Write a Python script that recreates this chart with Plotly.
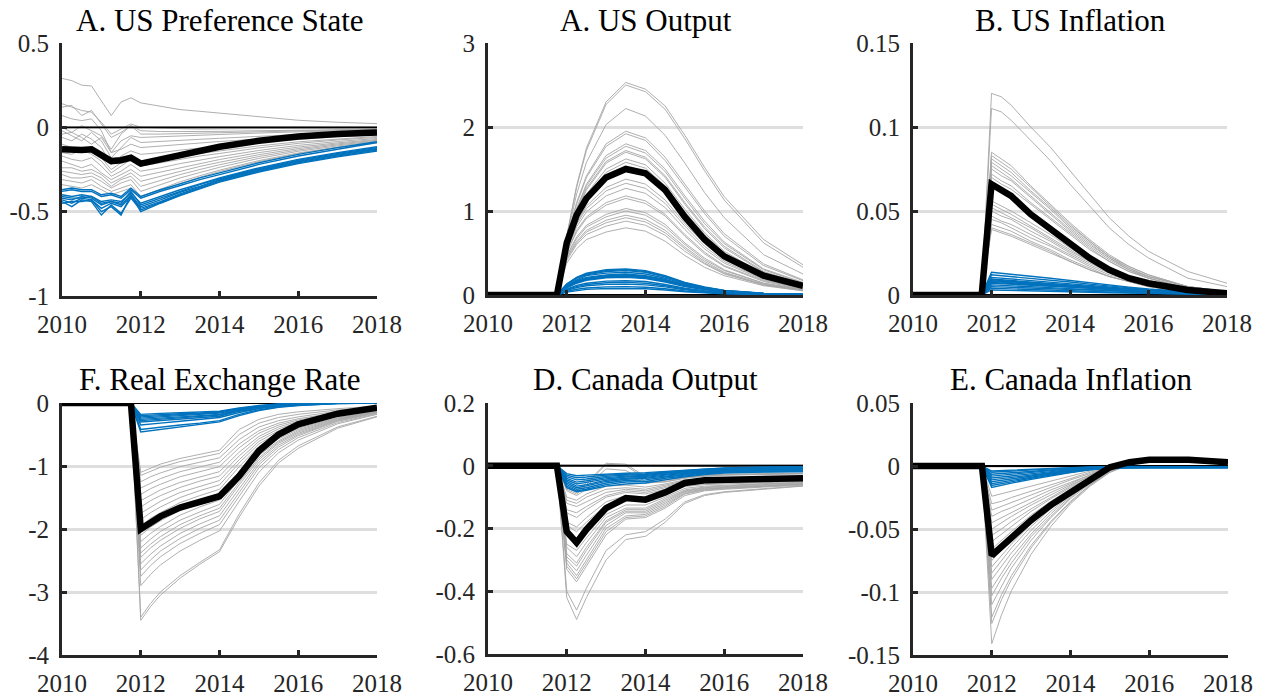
import plotly.graph_objects as go

W, H = 1266, 698
FONT = "Liberation Serif, Times New Roman, serif"
AX_COLOR = "#262626"
GRAY = "#a6a6a6"
BLUE = "#0072bd"
BLACK = "#000000"

X_TICKS = [2010, 2012, 2014, 2016, 2018]
X_TEXT = ["2010", "2012", "2014", "2016", "2018"]

# ---------------- time grids ----------------
T_PREF = [2010, 2010.25, 2010.5, 2010.75, 2011, 2011.25, 2011.5, 2011.75, 2012,
          2012.5, 2013, 2013.5, 2014, 2015, 2016, 2017, 2018]
T_IRF = [2010, 2011.75, 2012, 2012.25, 2012.5, 2013, 2013.5, 2014, 2014.5,
         2015, 2015.5, 2016, 2017, 2018]
PRE_SHOCK = [0.0, 0.0]   # values at 2010 and 2011.75 (before the shock)

# ---------------- A. US Preference State ----------------
PREF_GRAY = [
    [0.29, 0.277, 0.25, 0.245, 0.157, 0.07, 0.15, 0.175, 0.145, 0.125, 0.105, 0.095, 0.085, 0.062, 0.042, 0.03, 0.022],
    [0.14, 0.12, 0.10, 0.09, 0.03, -0.04, -0.01, 0.02, 0.0, -0.005, -0.008, -0.01, -0.01, -0.008, -0.006, -0.005, -0.004],
    [0.12, 0.13, 0.07, 0.10, 0.02, -0.06, -0.03, 0.01, -0.02, -0.025, -0.025, -0.025, -0.024, -0.02, -0.017, -0.014, -0.012],
    [0.07, 0.05, 0.04, 0.05, -0.02, -0.15, -0.08, -0.05, -0.06, -0.055, -0.05, -0.046, -0.042, -0.034, -0.027, -0.021, -0.017],
    [0.0, -0.03, 0.01, -0.02, -0.05, -0.13, -0.04, 0.01, -0.04, -0.04, -0.037, -0.034, -0.031, -0.025, -0.02, -0.016, -0.013],
    [-0.02, -0.05, -0.08, -0.03, -0.08, -0.18, -0.12, -0.06, -0.09, -0.085, -0.078, -0.071, -0.065, -0.053, -0.042, -0.034, -0.028],
    [-0.04, -0.03, -0.06, -0.10, -0.06, -0.15, -0.13, -0.10, -0.12, -0.11, -0.10, -0.092, -0.084, -0.069, -0.056, -0.045, -0.037],
    [-0.06, -0.08, -0.04, -0.07, -0.12, -0.22, -0.17, -0.14, -0.16, -0.15, -0.135, -0.122, -0.11, -0.088, -0.07, -0.056, -0.045],
    [-0.10, -0.12, -0.14, -0.12, -0.18, -0.25, -0.21, -0.17, -0.20, -0.185, -0.168, -0.152, -0.138, -0.11, -0.086, -0.068, -0.054],
    [-0.15, -0.16, -0.13, -0.16, -0.20, -0.27, -0.23, -0.19, -0.23, -0.21, -0.19, -0.17, -0.155, -0.122, -0.095, -0.075, -0.06],
    [-0.17, -0.19, -0.20, -0.18, -0.23, -0.29, -0.26, -0.22, -0.26, -0.24, -0.215, -0.193, -0.174, -0.137, -0.107, -0.084, -0.066],
    [-0.20, -0.22, -0.24, -0.22, -0.27, -0.31, -0.28, -0.25, -0.29, -0.265, -0.238, -0.213, -0.191, -0.15, -0.117, -0.092, -0.072],
    [-0.24, -0.24, -0.26, -0.25, -0.28, -0.33, -0.30, -0.27, -0.32, -0.29, -0.26, -0.232, -0.207, -0.162, -0.126, -0.098, -0.077],
    [-0.26, -0.27, -0.28, -0.27, -0.30, -0.35, -0.31, -0.29, -0.35, -0.315, -0.28, -0.25, -0.222, -0.173, -0.134, -0.104, -0.081],
    [-0.28, -0.30, -0.30, -0.29, -0.32, -0.36, -0.33, -0.31, -0.38, -0.34, -0.30, -0.268, -0.237, -0.184, -0.142, -0.11, -0.085],
    [-0.31, -0.32, -0.33, -0.31, -0.35, -0.38, -0.36, -0.34, -0.41, -0.365, -0.323, -0.287, -0.254, -0.197, -0.152, -0.117, -0.09],
    [-0.34, -0.35, -0.36, -0.34, -0.37, -0.40, -0.38, -0.36, -0.42, -0.375, -0.333, -0.296, -0.262, -0.203, -0.156, -0.12, -0.093],
]
PREF_BLUE = [
    [-0.37, -0.36, -0.37, -0.37, -0.40, -0.39, -0.41, -0.36, -0.41, -0.37, -0.335, -0.30, -0.27, -0.21, -0.16, -0.12, -0.085],
    [-0.38, -0.37, -0.38, -0.38, -0.41, -0.40, -0.42, -0.37, -0.42, -0.38, -0.345, -0.31, -0.28, -0.22, -0.17, -0.13, -0.09],
    [-0.40, -0.41, -0.40, -0.41, -0.44, -0.43, -0.44, -0.39, -0.45, -0.41, -0.37, -0.335, -0.30, -0.24, -0.19, -0.15, -0.115],
    [-0.42, -0.43, -0.41, -0.42, -0.46, -0.44, -0.46, -0.40, -0.47, -0.43, -0.385, -0.35, -0.31, -0.25, -0.20, -0.16, -0.125],
    [-0.43, -0.45, -0.42, -0.43, -0.48, -0.45, -0.47, -0.41, -0.48, -0.44, -0.395, -0.355, -0.315, -0.255, -0.205, -0.165, -0.13],
    [-0.44, -0.47, -0.43, -0.44, -0.52, -0.46, -0.51, -0.42, -0.49, -0.445, -0.40, -0.36, -0.32, -0.26, -0.21, -0.17, -0.135],
    [-0.45, -0.44, -0.44, -0.43, -0.50, -0.47, -0.52, -0.40, -0.50, -0.45, -0.405, -0.365, -0.325, -0.265, -0.215, -0.175, -0.14],
    [-0.41, -0.42, -0.42, -0.41, -0.45, -0.44, -0.45, -0.38, -0.46, -0.42, -0.378, -0.34, -0.305, -0.245, -0.195, -0.155, -0.12],
]
PREF_MEDIAN = [-0.13, -0.135, -0.135, -0.13, -0.17, -0.20, -0.195, -0.18, -0.215,
               -0.19, -0.165, -0.138, -0.115, -0.08, -0.055, -0.04, -0.03]
PREF_YTICKS = [-1, -0.5, 0, 0.5]
PREF_YTEXT = ["-1", "-0.5", "0", "0.5"]

# ---------------- A. US Output ----------------
USY_GRAY = [
    [0.70, 1.30, 1.75, 2.30, 2.53, 2.45, 2.25, 1.90, 1.52, 1.17, 0.66, 0.36],
    [0.70, 1.28, 1.72, 2.27, 2.50, 2.42, 2.21, 1.86, 1.48, 1.13, 0.62, 0.33],
    [0.68, 1.20, 1.58, 2.03, 2.22, 2.13, 1.90, 1.57, 1.22, 0.92, 0.48, 0.25],
    [0.66, 1.10, 1.42, 1.80, 1.95, 1.87, 1.64, 1.32, 1.00, 0.73, 0.37, 0.18],
    [0.65, 1.08, 1.40, 1.77, 1.92, 1.84, 1.60, 1.28, 0.97, 0.70, 0.35, 0.17],
    [0.63, 1.03, 1.32, 1.66, 1.80, 1.72, 1.50, 1.18, 0.88, 0.63, 0.31, 0.15],
    [0.63, 1.02, 1.30, 1.63, 1.77, 1.69, 1.47, 1.15, 0.85, 0.61, 0.30, 0.14],
    [0.62, 1.00, 1.27, 1.59, 1.72, 1.64, 1.42, 1.10, 0.81, 0.58, 0.28, 0.13],
    [0.61, 0.98, 1.25, 1.57, 1.70, 1.62, 1.40, 1.08, 0.79, 0.56, 0.27, 0.13],
    [0.60, 0.95, 1.20, 1.50, 1.62, 1.55, 1.33, 1.02, 0.74, 0.52, 0.25, 0.12],
    [0.59, 0.93, 1.18, 1.46, 1.58, 1.51, 1.30, 0.99, 0.72, 0.50, 0.24, 0.11],
    [0.56, 0.86, 1.06, 1.28, 1.38, 1.32, 1.13, 0.85, 0.61, 0.42, 0.20, 0.09],
    [0.55, 0.84, 1.03, 1.24, 1.33, 1.27, 1.09, 0.82, 0.58, 0.40, 0.19, 0.09],
    [0.53, 0.81, 0.99, 1.18, 1.27, 1.21, 1.04, 0.78, 0.55, 0.38, 0.18, 0.08],
    [0.51, 0.77, 0.93, 1.10, 1.18, 1.12, 0.96, 0.72, 0.51, 0.35, 0.17, 0.08],
    [0.50, 0.75, 0.91, 1.07, 1.15, 1.09, 0.94, 0.70, 0.49, 0.34, 0.16, 0.07],
    [0.47, 0.69, 0.83, 0.96, 1.03, 0.98, 0.84, 0.62, 0.44, 0.30, 0.14, 0.07],
    [0.46, 0.67, 0.81, 0.93, 1.00, 0.95, 0.81, 0.60, 0.42, 0.29, 0.14, 0.06],
    [0.44, 0.64, 0.77, 0.89, 0.95, 0.90, 0.77, 0.57, 0.40, 0.27, 0.13, 0.06],
    [0.43, 0.62, 0.75, 0.86, 0.92, 0.87, 0.74, 0.55, 0.38, 0.26, 0.12, 0.06],
    [0.41, 0.60, 0.72, 0.82, 0.88, 0.83, 0.71, 0.52, 0.37, 0.25, 0.12, 0.05],
    [0.38, 0.55, 0.66, 0.75, 0.80, 0.76, 0.64, 0.47, 0.33, 0.23, 0.11, 0.05],
]
USY_BLUE = [
    [0.13, 0.21, 0.26, 0.30, 0.31, 0.29, 0.23, 0.15, 0.095, 0.055, 0.02, 0.01],
    [0.13, 0.20, 0.25, 0.29, 0.30, 0.28, 0.22, 0.145, 0.09, 0.053, 0.019, 0.009],
    [0.12, 0.20, 0.24, 0.28, 0.29, 0.27, 0.215, 0.14, 0.088, 0.051, 0.018, 0.009],
    [0.11, 0.18, 0.23, 0.26, 0.27, 0.25, 0.20, 0.13, 0.082, 0.048, 0.017, 0.008],
    [0.10, 0.17, 0.21, 0.24, 0.25, 0.23, 0.185, 0.12, 0.076, 0.044, 0.016, 0.008],
    [0.10, 0.16, 0.20, 0.23, 0.24, 0.22, 0.18, 0.115, 0.073, 0.042, 0.015, 0.007],
    [0.095, 0.155, 0.19, 0.22, 0.23, 0.215, 0.17, 0.11, 0.07, 0.04, 0.015, 0.007],
    [0.09, 0.15, 0.185, 0.215, 0.22, 0.205, 0.165, 0.105, 0.067, 0.039, 0.014, 0.007],
    [0.085, 0.14, 0.175, 0.205, 0.21, 0.195, 0.155, 0.10, 0.064, 0.037, 0.013, 0.006],
    [0.07, 0.115, 0.14, 0.165, 0.17, 0.16, 0.125, 0.08, 0.052, 0.03, 0.011, 0.005],
    [0.063, 0.10, 0.125, 0.145, 0.15, 0.14, 0.11, 0.072, 0.046, 0.027, 0.01, 0.005],
    [0.055, 0.088, 0.11, 0.126, 0.13, 0.12, 0.097, 0.062, 0.04, 0.023, 0.008, 0.004],
    [0.042, 0.068, 0.084, 0.097, 0.10, 0.093, 0.075, 0.048, 0.031, 0.018, 0.007, 0.003],
    [0.034, 0.054, 0.067, 0.078, 0.08, 0.074, 0.06, 0.038, 0.025, 0.014, 0.005, 0.003],
]
USY_MEDIAN = [0.62, 0.95, 1.15, 1.40, 1.50, 1.45, 1.25, 0.93, 0.66, 0.46, 0.23, 0.11]
USY_YTICKS = [0, 1, 2, 3]
USY_YTEXT = ["0", "1", "2", "3"]

# ---------------- B. US Inflation ----------------
USPI_GRAY = [
    [0.120, 0.118, 0.113, 0.100, 0.088, 0.074, 0.060, 0.046, 0.035, 0.026, 0.014, 0.007],
    [0.111, 0.109, 0.104, 0.092, 0.080, 0.066, 0.053, 0.040, 0.030, 0.022, 0.010, 0.005],
    [0.085, 0.081, 0.077, 0.065, 0.054, 0.043, 0.033, 0.024, 0.017, 0.012, 0.005, 0.002],
    [0.083, 0.079, 0.075, 0.064, 0.053, 0.042, 0.032, 0.023, 0.017, 0.012, 0.005, 0.002],
    [0.081, 0.077, 0.073, 0.062, 0.052, 0.041, 0.032, 0.023, 0.016, 0.011, 0.005, 0.002],
    [0.079, 0.075, 0.071, 0.061, 0.051, 0.040, 0.031, 0.022, 0.016, 0.011, 0.005, 0.002],
    [0.077, 0.073, 0.069, 0.059, 0.049, 0.039, 0.030, 0.022, 0.015, 0.011, 0.005, 0.002],
    [0.075, 0.071, 0.068, 0.058, 0.048, 0.038, 0.029, 0.021, 0.015, 0.010, 0.004, 0.002],
    [0.072, 0.068, 0.065, 0.055, 0.046, 0.037, 0.028, 0.020, 0.014, 0.010, 0.004, 0.002],
    [0.070, 0.066, 0.063, 0.054, 0.045, 0.036, 0.027, 0.020, 0.014, 0.010, 0.004, 0.002],
    [0.056, 0.053, 0.050, 0.043, 0.036, 0.028, 0.021, 0.015, 0.011, 0.007, 0.003, 0.001],
    [0.054, 0.051, 0.048, 0.041, 0.034, 0.027, 0.020, 0.015, 0.010, 0.007, 0.003, 0.001],
    [0.052, 0.049, 0.046, 0.040, 0.033, 0.026, 0.020, 0.014, 0.010, 0.007, 0.003, 0.001],
    [0.050, 0.047, 0.045, 0.038, 0.032, 0.025, 0.019, 0.014, 0.010, 0.007, 0.003, 0.001],
    [0.047, 0.044, 0.042, 0.036, 0.030, 0.024, 0.018, 0.013, 0.009, 0.006, 0.003, 0.001],
    [0.045, 0.043, 0.040, 0.034, 0.029, 0.023, 0.017, 0.012, 0.009, 0.006, 0.002, 0.001],
    [0.042, 0.040, 0.038, 0.032, 0.027, 0.021, 0.016, 0.011, 0.008, 0.005, 0.002, 0.001],
    [0.040, 0.038, 0.036, 0.031, 0.026, 0.020, 0.015, 0.011, 0.008, 0.005, 0.002, 0.001],
    [0.039, 0.037, 0.035, 0.030, 0.025, 0.020, 0.015, 0.011, 0.008, 0.005, 0.002, 0.001],
]
USPI_BLUE = [
    [0.0135, 0.013, 0.0124, 0.0112, 0.010, 0.0086, 0.0073, 0.0059, 0.0047, 0.0036, 0.002, 0.001],
    [0.012, 0.0115, 0.011, 0.010, 0.0089, 0.0077, 0.0065, 0.0053, 0.0042, 0.0032, 0.0018, 0.0008],
    [0.0105, 0.010, 0.0097, 0.0087, 0.0078, 0.0067, 0.0057, 0.0046, 0.0037, 0.0028, 0.0016, 0.0007],
    [0.0095, 0.0091, 0.0087, 0.0079, 0.007, 0.0061, 0.0051, 0.0042, 0.0033, 0.0026, 0.0014, 0.0007],
    [0.009, 0.0086, 0.0083, 0.0075, 0.0067, 0.0058, 0.0049, 0.004, 0.0032, 0.0024, 0.0014, 0.0006],
    [0.0085, 0.0082, 0.0078, 0.0071, 0.0063, 0.0054, 0.0046, 0.0037, 0.003, 0.0023, 0.0013, 0.0006],
    [0.008, 0.0077, 0.0074, 0.0066, 0.0059, 0.0051, 0.0043, 0.0035, 0.0028, 0.0022, 0.0012, 0.0006],
    [0.0075, 0.0072, 0.0069, 0.0062, 0.0056, 0.0048, 0.0041, 0.0033, 0.0026, 0.002, 0.0011, 0.0005],
    [0.007, 0.0067, 0.0064, 0.0058, 0.0052, 0.0045, 0.0038, 0.0031, 0.0025, 0.0019, 0.0011, 0.0005],
    [0.006, 0.0058, 0.0055, 0.005, 0.0044, 0.0038, 0.0032, 0.0026, 0.0021, 0.0016, 0.0009, 0.0004],
    [0.005, 0.0048, 0.0046, 0.0042, 0.0037, 0.0032, 0.0027, 0.0022, 0.0018, 0.0014, 0.0008, 0.0004],
    [0.004, 0.0038, 0.0037, 0.0033, 0.003, 0.0026, 0.0022, 0.0018, 0.0014, 0.0011, 0.0006, 0.0003],
    [0.003, 0.0029, 0.0028, 0.0025, 0.0022, 0.0019, 0.0016, 0.0013, 0.0011, 0.0008, 0.0005, 0.0002],
]
USPI_MEDIAN = [0.066, 0.063, 0.059, 0.048, 0.039, 0.030, 0.022, 0.015, 0.010, 0.007, 0.003, 0.001]
USPI_YTICKS = [0, 0.05, 0.1, 0.15]
USPI_YTEXT = ["0", "0.05", "0.1", "0.15"]

# ---------------- F. Real Exchange Rate ----------------
RER_GRAY = [
    [-3.45, -3.23, -3.05, -2.78, -2.56, -2.36, -1.81, -1.32, -0.95, -0.72, -0.40, -0.22],
    [-3.40, -3.18, -3.00, -2.74, -2.53, -2.33, -1.76, -1.27, -0.91, -0.68, -0.38, -0.21],
    [-2.90, -2.72, -2.57, -2.35, -2.18, -2.03, -1.56, -1.10, -0.79, -0.59, -0.33, -0.18],
    [-2.75, -2.58, -2.44, -2.23, -2.07, -1.93, -1.48, -1.03, -0.74, -0.55, -0.31, -0.17],
    [-2.65, -2.49, -2.35, -2.15, -1.99, -1.86, -1.42, -0.98, -0.70, -0.52, -0.29, -0.16],
    [-2.55, -2.40, -2.27, -2.07, -1.92, -1.79, -1.36, -0.94, -0.67, -0.50, -0.28, -0.15],
    [-2.45, -2.30, -2.18, -1.99, -1.84, -1.72, -1.30, -0.90, -0.64, -0.48, -0.27, -0.15],
    [-2.38, -2.24, -2.12, -1.93, -1.79, -1.67, -1.26, -0.87, -0.62, -0.46, -0.26, -0.14],
    [-2.30, -2.16, -2.04, -1.86, -1.73, -1.61, -1.21, -0.83, -0.60, -0.44, -0.25, -0.14],
    [-2.20, -2.07, -1.96, -1.78, -1.65, -1.54, -1.15, -0.79, -0.57, -0.42, -0.24, -0.13],
    [-2.10, -1.97, -1.87, -1.70, -1.58, -1.47, -1.09, -0.75, -0.54, -0.40, -0.23, -0.13],
    [-1.95, -1.83, -1.74, -1.58, -1.47, -1.37, -1.01, -0.69, -0.50, -0.37, -0.21, -0.12],
    [-1.85, -1.74, -1.65, -1.50, -1.39, -1.30, -0.95, -0.65, -0.47, -0.35, -0.20, -0.11],
    [-1.75, -1.65, -1.56, -1.42, -1.32, -1.23, -0.90, -0.61, -0.44, -0.33, -0.19, -0.10],
    [-1.65, -1.55, -1.47, -1.34, -1.24, -1.16, -0.84, -0.57, -0.41, -0.31, -0.18, -0.10],
    [-1.55, -1.46, -1.38, -1.26, -1.17, -1.09, -0.78, -0.53, -0.38, -0.29, -0.17, -0.09],
    [-1.45, -1.36, -1.29, -1.17, -1.09, -1.01, -0.71, -0.48, -0.35, -0.27, -0.16, -0.09],
    [-1.35, -1.27, -1.20, -1.09, -1.01, -0.94, -0.65, -0.44, -0.32, -0.25, -0.15, -0.08],
    [-1.25, -1.17, -1.11, -1.01, -0.94, -0.87, -0.58, -0.38, -0.28, -0.22, -0.13, -0.07],
    [-1.15, -1.08, -1.02, -0.93, -0.86, -0.80, -0.50, -0.32, -0.23, -0.18, -0.11, -0.06],
    [-1.10, -1.03, -0.97, -0.88, -0.81, -0.75, -0.42, -0.26, -0.18, -0.14, -0.09, -0.05],
]
RER_BLUE = [
    [-0.46, -0.44, -0.42, -0.38, -0.34, -0.30, -0.20, -0.12, -0.07, -0.04, -0.01, 0.0],
    [-0.42, -0.40, -0.38, -0.35, -0.32, -0.28, -0.18, -0.11, -0.06, -0.035, -0.01, 0.0],
    [-0.35, -0.33, -0.32, -0.29, -0.26, -0.23, -0.15, -0.09, -0.05, -0.03, -0.005, 0.005],
    [-0.30, -0.29, -0.28, -0.26, -0.24, -0.21, -0.13, -0.08, -0.04, -0.02, 0.0, 0.01],
    [-0.28, -0.27, -0.26, -0.24, -0.22, -0.19, -0.12, -0.07, -0.035, -0.015, 0.005, 0.01],
    [-0.26, -0.25, -0.24, -0.22, -0.20, -0.18, -0.11, -0.06, -0.03, -0.01, 0.005, 0.01],
    [-0.24, -0.23, -0.22, -0.20, -0.18, -0.16, -0.10, -0.055, -0.025, -0.01, 0.005, 0.012],
    [-0.22, -0.21, -0.20, -0.18, -0.17, -0.15, -0.09, -0.05, -0.02, -0.005, 0.008, 0.012],
    [-0.20, -0.19, -0.18, -0.17, -0.16, -0.14, -0.085, -0.045, -0.02, -0.005, 0.008, 0.012],
    [-0.18, -0.17, -0.165, -0.155, -0.145, -0.13, -0.08, -0.04, -0.015, 0.0, 0.01, 0.012],
]
RER_MEDIAN = [-2.0, -1.90, -1.80, -1.66, -1.56, -1.48, -1.16, -0.76, -0.50, -0.34, -0.17, -0.075]
RER_YTICKS = [-4, -3, -2, -1, 0]
RER_YTEXT = ["-4", "-3", "-2", "-1", "0"]

# ---------------- D. Canada Output ----------------
CAY_GRAY = [
    [-0.42, -0.49, -0.42, -0.30, -0.235, -0.225, -0.18, -0.12, -0.095, -0.085, -0.075, -0.065],
    [-0.40, -0.46, -0.39, -0.27, -0.22, -0.21, -0.17, -0.115, -0.092, -0.083, -0.073, -0.064],
    [-0.33, -0.37, -0.32, -0.22, -0.17, -0.165, -0.135, -0.095, -0.08, -0.075, -0.068, -0.062],
    [-0.32, -0.36, -0.31, -0.21, -0.165, -0.16, -0.13, -0.09, -0.078, -0.073, -0.066, -0.06],
    [-0.31, -0.35, -0.30, -0.20, -0.16, -0.155, -0.125, -0.088, -0.076, -0.071, -0.065, -0.059],
    [-0.30, -0.335, -0.285, -0.19, -0.15, -0.15, -0.12, -0.085, -0.074, -0.07, -0.064, -0.058],
    [-0.29, -0.32, -0.27, -0.18, -0.145, -0.145, -0.115, -0.082, -0.072, -0.068, -0.062, -0.057],
    [-0.28, -0.31, -0.26, -0.175, -0.14, -0.14, -0.11, -0.08, -0.07, -0.066, -0.06, -0.055],
    [-0.26, -0.29, -0.245, -0.165, -0.135, -0.135, -0.105, -0.077, -0.068, -0.064, -0.058, -0.054],
    [-0.25, -0.27, -0.23, -0.155, -0.125, -0.125, -0.10, -0.072, -0.065, -0.062, -0.056, -0.052],
    [-0.21, -0.23, -0.195, -0.135, -0.11, -0.115, -0.09, -0.066, -0.06, -0.058, -0.054, -0.05],
    [-0.19, -0.21, -0.18, -0.125, -0.10, -0.105, -0.085, -0.062, -0.057, -0.055, -0.052, -0.048],
    [-0.18, -0.195, -0.165, -0.115, -0.095, -0.10, -0.08, -0.058, -0.054, -0.052, -0.05, -0.047],
    [-0.15, -0.165, -0.14, -0.10, -0.085, -0.09, -0.075, -0.055, -0.051, -0.05, -0.048, -0.045],
    [-0.14, -0.15, -0.13, -0.095, -0.08, -0.085, -0.07, -0.052, -0.049, -0.048, -0.046, -0.044],
    [-0.12, -0.13, -0.115, -0.085, -0.075, -0.08, -0.066, -0.05, -0.047, -0.046, -0.045, -0.043],
    [-0.11, -0.12, -0.10, -0.075, -0.07, -0.075, -0.062, -0.048, -0.045, -0.044, -0.043, -0.042],
    [-0.10, -0.11, -0.09, -0.065, -0.062, -0.068, -0.058, -0.045, -0.043, -0.042, -0.041, -0.04],
    [-0.07, -0.085, -0.06, 0.005, 0.0, -0.04, -0.045, -0.035, -0.03, -0.028, -0.026, -0.025],
    [-0.07, -0.08, -0.055, 0.008, 0.005, -0.035, -0.045, -0.035, -0.03, -0.027, -0.025, -0.024],
    [-0.075, -0.09, -0.065, -0.01, -0.015, -0.05, -0.05, -0.038, -0.032, -0.029, -0.027, -0.025],
    [-0.08, -0.095, -0.075, -0.03, -0.03, -0.055, -0.052, -0.04, -0.034, -0.03, -0.028, -0.026],
]
CAY_BLUE = [
    [-0.07, -0.083, -0.078, -0.065, -0.058, -0.055, -0.045, -0.035, -0.028, -0.023, -0.02, -0.019],
    [-0.065, -0.08, -0.075, -0.06, -0.052, -0.05, -0.04, -0.032, -0.026, -0.021, -0.018, -0.017],
    [-0.06, -0.075, -0.07, -0.055, -0.047, -0.045, -0.036, -0.029, -0.023, -0.019, -0.016, -0.015],
    [-0.055, -0.07, -0.064, -0.05, -0.043, -0.04, -0.033, -0.026, -0.021, -0.017, -0.014, -0.013],
    [-0.05, -0.065, -0.06, -0.046, -0.04, -0.037, -0.03, -0.024, -0.019, -0.015, -0.012, -0.011],
    [-0.045, -0.058, -0.053, -0.042, -0.036, -0.034, -0.027, -0.021, -0.017, -0.013, -0.01, -0.009],
    [-0.04, -0.052, -0.048, -0.038, -0.033, -0.031, -0.024, -0.019, -0.015, -0.011, -0.008, -0.007],
    [-0.035, -0.045, -0.042, -0.034, -0.03, -0.028, -0.022, -0.017, -0.013, -0.009, -0.006, -0.005],
    [-0.03, -0.038, -0.036, -0.03, -0.027, -0.025, -0.02, -0.015, -0.011, -0.008, -0.005, -0.004],
    [-0.025, -0.032, -0.03, -0.026, -0.024, -0.022, -0.018, -0.013, -0.01, -0.007, -0.004, -0.003],
]
CAY_MEDIAN = [-0.21, -0.245, -0.203, -0.135, -0.103, -0.108, -0.085, -0.055, -0.046, -0.044, -0.042, -0.040]
CAY_YTICKS = [-0.6, -0.4, -0.2, 0, 0.2]
CAY_YTEXT = ["-0.6", "-0.4", "-0.2", "0", "0.2"]

# ---------------- E. Canada Inflation ----------------
CAPI_GRAY = [
    [-0.141, -0.118, -0.099, -0.070, -0.048, -0.030, -0.016, -0.005, 0.001, 0.004, 0.005, 0.003],
    [-0.125, -0.106, -0.090, -0.065, -0.045, -0.029, -0.015, -0.005, 0.001, 0.004, 0.005, 0.003],
    [-0.120, -0.102, -0.087, -0.063, -0.044, -0.028, -0.015, -0.004, 0.001, 0.004, 0.005, 0.003],
    [-0.110, -0.095, -0.081, -0.059, -0.041, -0.026, -0.014, -0.004, 0.001, 0.004, 0.005, 0.003],
    [-0.103, -0.089, -0.077, -0.056, -0.040, -0.025, -0.013, -0.003, 0.002, 0.004, 0.005, 0.003],
    [-0.097, -0.085, -0.073, -0.054, -0.038, -0.024, -0.013, -0.003, 0.002, 0.004, 0.005, 0.003],
    [-0.090, -0.079, -0.069, -0.051, -0.036, -0.023, -0.012, -0.003, 0.002, 0.004, 0.005, 0.003],
    [-0.085, -0.075, -0.065, -0.048, -0.034, -0.022, -0.011, -0.002, 0.002, 0.004, 0.005, 0.003],
    [-0.080, -0.071, -0.062, -0.046, -0.033, -0.021, -0.011, -0.002, 0.002, 0.004, 0.005, 0.003],
    [-0.075, -0.067, -0.058, -0.043, -0.031, -0.020, -0.010, -0.002, 0.002, 0.004, 0.005, 0.003],
    [-0.066, -0.059, -0.052, -0.039, -0.028, -0.018, -0.009, -0.002, 0.002, 0.004, 0.004, 0.003],
    [-0.060, -0.054, -0.048, -0.036, -0.026, -0.017, -0.009, -0.002, 0.002, 0.004, 0.004, 0.003],
    [-0.055, -0.050, -0.044, -0.034, -0.025, -0.016, -0.008, -0.002, 0.002, 0.004, 0.004, 0.003],
    [-0.050, -0.045, -0.040, -0.031, -0.023, -0.015, -0.008, -0.002, 0.002, 0.004, 0.004, 0.003],
    [-0.045, -0.041, -0.037, -0.029, -0.021, -0.014, -0.007, -0.001, 0.002, 0.003, 0.004, 0.003],
    [-0.040, -0.036, -0.033, -0.026, -0.019, -0.013, -0.007, -0.001, 0.002, 0.003, 0.004, 0.003],
    [-0.035, -0.032, -0.029, -0.023, -0.017, -0.011, -0.006, -0.001, 0.002, 0.003, 0.004, 0.003],
    [-0.030, -0.028, -0.025, -0.020, -0.015, -0.010, -0.005, -0.001, 0.002, 0.003, 0.004, 0.003],
    [-0.024, -0.022, -0.020, -0.016, -0.012, -0.008, -0.004, 0.000, 0.002, 0.003, 0.003, 0.002],
]
CAPI_BLUE = [
    [-0.0170, -0.0152, -0.0136, -0.0106, -0.0078, -0.0052, -0.0030, -0.0018, -0.0015, -0.0015, -0.0016, -0.0015],
    [-0.0155, -0.0140, -0.0125, -0.0097, -0.0071, -0.0048, -0.0028, -0.0017, -0.0014, -0.0014, -0.0015, -0.0014],
    [-0.0140, -0.0127, -0.0113, -0.0088, -0.0064, -0.0043, -0.0025, -0.0015, -0.0012, -0.0012, -0.0013, -0.0012],
    [-0.0125, -0.0113, -0.0101, -0.0079, -0.0058, -0.0039, -0.0022, -0.0013, -0.0011, -0.0011, -0.0012, -0.0011],
    [-0.0110, -0.0100, -0.0089, -0.0069, -0.0051, -0.0034, -0.0019, -0.0012, -0.0010, -0.0010, -0.0011, -0.0010],
    [-0.0095, -0.0086, -0.0077, -0.0060, -0.0044, -0.0029, -0.0017, -0.0010, -0.0009, -0.0009, -0.0010, -0.0009],
    [-0.0080, -0.0072, -0.0065, -0.0050, -0.0037, -0.0025, -0.0014, -0.0009, -0.0008, -0.0008, -0.0009, -0.0008],
    [-0.0065, -0.0059, -0.0053, -0.0041, -0.0030, -0.0020, -0.0012, -0.0007, -0.0007, -0.0007, -0.0008, -0.0007],
    [-0.0050, -0.0045, -0.0041, -0.0032, -0.0023, -0.0016, -0.0009, -0.0006, -0.0005, -0.0006, -0.0007, -0.0006],
    [-0.0040, -0.0036, -0.0033, -0.0025, -0.0019, -0.0013, -0.0008, -0.0005, -0.0004, -0.0005, -0.0006, -0.0005],
]
CAPI_MEDIAN = [-0.071, -0.064, -0.058, -0.043, -0.031, -0.021, -0.011, -0.001, 0.003, 0.005, 0.005, 0.003]
CAPI_YTICKS = [-0.15, -0.1, -0.05, 0, 0.05]
CAPI_YTEXT = ["-0.15", "-0.1", "-0.05", "0", "0.05"]

TITLES = ["A. US Preference State", "A. US Output", "B. US Inflation",
          "F. Real Exchange Rate", "D. Canada Output", "E. Canada Inflation"]

# ---------------- layout geometry (pixels) ----------------
BOXES = [(62, 377, 43, 296), (488, 803, 43, 295), (913, 1227, 43, 295),
         (62, 377, 403, 655), (488, 803, 403, 654), (913, 1228, 403, 655)]
TITLE_Y = [20, 20, 20, 379, 379, 379]

panels = [
    (T_PREF, [], PREF_GRAY, PREF_BLUE, PREF_MEDIAN, PREF_YTICKS, PREF_YTEXT),
    (T_IRF, PRE_SHOCK, USY_GRAY, USY_BLUE, USY_MEDIAN, USY_YTICKS, USY_YTEXT),
    (T_IRF, PRE_SHOCK, USPI_GRAY, USPI_BLUE, USPI_MEDIAN, USPI_YTICKS, USPI_YTEXT),
    (T_IRF, PRE_SHOCK, RER_GRAY, RER_BLUE, RER_MEDIAN, RER_YTICKS, RER_YTEXT),
    (T_IRF, PRE_SHOCK, CAY_GRAY, CAY_BLUE, CAY_MEDIAN, CAY_YTICKS, CAY_YTEXT),
    (T_IRF, PRE_SHOCK, CAPI_GRAY, CAPI_BLUE, CAPI_MEDIAN, CAPI_YTICKS, CAPI_YTEXT),
]

fig = go.Figure()
layout = dict(width=W, height=H, margin=dict(l=0, r=0, t=0, b=0, autoexpand=False),
              paper_bgcolor="white", plot_bgcolor="white", showlegend=False,
              font=dict(family=FONT, color=AX_COLOR), annotations=[])

for i, (t, pre, gray, blue, med, yt, ytx) in enumerate(panels):
    n = i + 1
    xa, ya = f"x{n}", f"y{n}"
    for vals in gray:
        fig.add_trace(go.Scatter(x=t, y=pre + vals, mode="lines", xaxis=xa, yaxis=ya,
                                 line=dict(color=GRAY, width=0.9), hoverinfo="skip"))
    fig.add_trace(go.Scatter(x=t, y=[0.0] * len(t), mode="lines", xaxis=xa, yaxis=ya,
                             line=dict(color=BLACK, width=1.8), hoverinfo="skip"))
    for vals in blue:
        fig.add_trace(go.Scatter(x=t, y=pre + vals, mode="lines", xaxis=xa, yaxis=ya,
                                 line=dict(color=BLUE, width=1.4), hoverinfo="skip"))
    fig.add_trace(go.Scatter(x=t, y=pre + med, mode="lines", xaxis=xa, yaxis=ya,
                             line=dict(color=BLACK, width=6.5), hoverinfo="skip"))

    l, r, tp, bt = BOXES[i]
    common = dict(showline=True, linecolor=AX_COLOR, linewidth=3, ticks="inside",
                  ticklen=5, tickwidth=3, tickcolor=AX_COLOR, zeroline=False,
                  tickfont=dict(family=FONT, size=25, color=AX_COLOR),
                  fixedrange=True, automargin=False)
    layout[f"xaxis{n}"] = dict(domain=[l / W, r / W], anchor=ya, range=[2010, 2018],
                               tickvals=X_TICKS, ticktext=X_TEXT, showgrid=False,
                               ticklabelstandoff=4, **common)
    layout[f"yaxis{n}"] = dict(domain=[1 - bt / H, 1 - tp / H], anchor=xa,
                               range=[min(yt), max(yt)], tickvals=yt, ticktext=ytx,
                               showgrid=True, gridcolor="#dedede", gridwidth=3,
                               ticklabelstandoff=5, **common)
    layout["annotations"].append(dict(
        text=TITLES[i], xref="paper", yref="paper", x=(l + r) / 2 / W,
        y=1 - TITLE_Y[i] / H, xanchor="center", yanchor="middle", showarrow=False,
        font=dict(family=FONT, size=31, color=BLACK)))

fig.update_layout(**layout)
fig.write_html("out.html", include_plotlyjs=True,
               config={"displayModeBar": False},
               post_script="document.body.style.margin='0';document.body.style.overflow='hidden';")
